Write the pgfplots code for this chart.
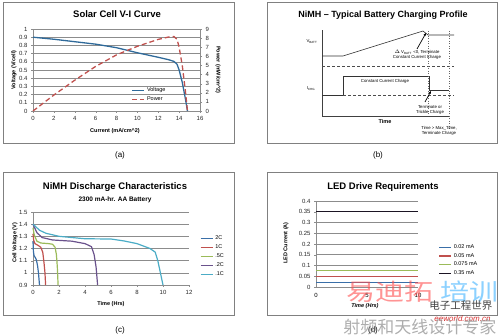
\documentclass[border=0pt]{standalone}
\usepackage{pgfplots}
\pgfplotsset{compat=1.18}
\usepackage{fontspec}
\setmainfont{Liberation Sans}
\newfontfamily\cjk{Noto Sans CJK SC}
\usetikzlibrary{arrows.meta}
\definecolor{vblue}{HTML}{2F6A9A}
\definecolor{xblue}{HTML}{3A6FA8}
\definecolor{xred}{HTML}{C0504D}
\definecolor{xgreen}{HTML}{9BBB59}
\definecolor{xpurple}{HTML}{6A528C}
\definecolor{xcyan}{HTML}{4BACC6}
\definecolor{gridg}{HTML}{8C8C8C}
\definecolor{frameg}{HTML}{808080}
\pgfplotsset{
  base/.style={scale only axis, clip=false, scaled ticks=false,
    /pgf/number format/assume math mode=true,
    /pgf/number format/fixed,
    tick label style={font=\fontsize{6}{7}\selectfont, text=black!85},
    axis line style={gridg,-}, major grid style={gridg, line width=0.5pt},
    tick style={gridg}, tick align=outside, major tick length=2pt,
    legend style={draw=none, fill=none, font=\fontsize{5.5}{6}\selectfont, row sep=-0.5pt,
      legend cell align=left, inner sep=0pt},
    legend image code/.code={\draw[##1] (0pt,0pt) -- (12pt,0pt);},
  }
}
\begin{document}
\begin{tikzpicture}[x=1pt,y=1pt]
\path[use as bounding box] (0pt,0pt) rectangle (500pt,336pt);
% frames
\draw[frameg, line width=0.8pt] (3pt,334pt) rectangle (234pt,193pt);
\draw[frameg, line width=0.8pt] (267pt,334pt) rectangle (497pt,193pt);
\draw[frameg, line width=0.8pt] (3pt,164pt) rectangle (234pt,21pt);
\draw[frameg, line width=0.8pt] (267pt,164pt) rectangle (497pt,21pt);

% ---------------- (a) ----------------
\begin{axis}[base, at={(33pt,225pt)}, anchor=south west, width=167pt, height=82pt,
  xmin=0, xmax=16, ymin=0, ymax=1, xtick={0,2,...,16},
  ytick={0,0.1,0.2,0.3,0.4,0.5,0.6,0.7,0.8,0.9,1},
  ymajorgrids, axis y line*=left, axis x line*=bottom]
\addplot[vblue, line width=1.3pt] coordinates {
(0,0.9) (2,0.875) (4,0.845) (6,0.815) (8,0.772) (10,0.71) (12,0.655) (13,0.625)
(13.5,0.605) (13.8,0.57) (14,0.5) (14.3,0.35) (14.6,0.15) (14.8,0)};
\end{axis}
\begin{axis}[base, at={(33pt,225pt)}, anchor=south west, width=167pt, height=82pt,
  xmin=0, xmax=16, ymin=0, ymax=9, ytick={0,1,...,9},
  axis y line*=right, axis x line=none,
  legend style={at={(0.59,0.31)}, anchor=north west}]
\addlegendimage{vblue, line width=1.3pt}
\addlegendentry{Voltage}
\addplot[xred, line width=1.3pt, dash pattern=on 5pt off 3pt] coordinates {
(0,0) (2,1.75) (4,3.38) (6,4.89) (8,6.16) (10,7.1) (12,7.86) (13,8.12)
(13.5,8.17) (13.8,7.87) (14,7.0) (14.3,5.0) (14.6,2.19) (14.8,0)};
\addlegendentry{Power}
\end{axis}
\node[font=\bfseries\fontsize{9.5}{11}\selectfont] at (117pt,322pt) {Solar Cell V-I Curve};
\node[font=\bfseries\fontsize{5.5}{6}\selectfont] at (115pt,205pt) {Current (mA/cm\textasciicircum2)};
\node[font=\bfseries\fontsize{5.5}{6}\selectfont, rotate=90] at (14pt,266pt) {Voltage (V/cell)};
\node[font=\bfseries\fontsize{5.5}{6}\selectfont, rotate=-90] at (218pt,266pt) {Power (mW/cm\textasciicircum2)};
\node[font=\fontsize{8}{9}\selectfont] at (120pt,181pt) {(a)};

% ---------------- (b) ----------------
\begin{axis}[scale only axis, clip=false, at={(322pt,220pt)}, anchor=south west,
  width=127pt, height=86pt, xmin=0, xmax=127, ymin=0, ymax=86,
  axis lines=left, axis line style={black!75,-, line width=0.7pt},
  xtick=\empty, ytick=\empty]
\addplot[black!80, line width=0.6pt] coordinates {(0,60) (21,60) (101,85) (106,81) (132,81)};
\addplot[black!70, line width=0.6pt, dash pattern=on 3pt off 2pt] coordinates {(0,50) (132,50)};
\addplot[black!80, line width=0.6pt] coordinates {(0,21) (21,21) (21,40) (107,40) (107,26) (127,26)};
\addplot[black!70, line width=0.6pt, dash pattern=on 3pt off 2pt] coordinates {(21,21) (132,21)};
\addplot[black!60, line width=0.6pt, dash pattern=on 1pt off 1.5pt] coordinates {(106,85) (106,1)};
\addplot[black!60, line width=0.6pt, dash pattern=on 1pt off 1.5pt] coordinates {(127,85) (127,-15)};
\addplot[black, line width=0.7pt, -{Stealth[length=3pt,width=2.5pt]}] coordinates {(95,67) (104,83)};
\addplot[black, line width=0.7pt, -{Stealth[length=3pt,width=2.5pt]}] coordinates {(103,14) (109,25)};
\node[font=\fontsize{4.3}{5}\selectfont, align=center] at (axis cs:95,61) {$\scriptstyle\Delta$ V\textsubscript{BATT} <0, Terminate\\[-0.5pt]Constant Current Charge};
\node[font=\fontsize{4.3}{5}\selectfont] at (axis cs:63,35) {Constant Current Charge};
\node[font=\fontsize{4.3}{5}\selectfont, align=center] at (axis cs:108,6) {Terminate or\\[-0.5pt]Trickle Charge};
\node[font=\fontsize{4.3}{5}\selectfont, align=center] at (axis cs:117,-15) {Time > Max\_Time,\\[-0.5pt]Terminate Charge};
\node[font=\fontsize{4.3}{5}\selectfont] at (axis cs:-10,74) {V\textsubscript{BATT}};
\node[font=\fontsize{4.3}{5}\selectfont] at (axis cs:-11,27) {I\textsubscript{CHG}};
\node[font=\bfseries\fontsize{5.5}{6}\selectfont] at (axis cs:63,-6) {Time};
\end{axis}
\node[font=\bfseries\fontsize{9}{11}\selectfont] at (383pt,321pt) {NiMH – Typical Battery Charging Profile};
\node[font=\fontsize{8}{9}\selectfont] at (378pt,181pt) {(b)};

% ---------------- (c) ----------------
\begin{axis}[base, at={(33pt,51pt)}, anchor=south west, width=156pt, height=73pt,
  xmin=0, xmax=12, ymin=0.9, ymax=1.5, xtick={0,2,...,12},
  ytick={0.9,1,1.1,1.2,1.3,1.4,1.5}, ymajorgrids,
  axis y line*=left, axis x line*=bottom,
  legend style={at={(1.07,0.70)}, anchor=north west}]
\addplot[xblue, line width=1.2pt] coordinates {
(0,1.26) (0.03,1.18) (0.08,1.14) (0.15,1.13) (0.25,1.11) (0.35,1.06) (0.42,1.0) (0.5,0.9)};
\addlegendentry{2C}
\addplot[xred, line width=1.2pt] coordinates {
(0,1.32) (0.05,1.27) (0.15,1.24) (0.4,1.225) (0.6,1.21) (0.75,1.17) (0.85,1.08) (0.92,1.0) (0.97,0.9)};
\addlegendentry{1C}
\addplot[xgreen, line width=1.2pt] coordinates {
(0,1.37) (0.1,1.31) (0.3,1.26) (0.6,1.245) (1.2,1.24) (1.5,1.235) (1.7,1.21) (1.8,1.15) (1.87,1.05) (1.93,0.9)};
\addlegendentry{.5C}
\addplot[xpurple, line width=1.2pt] coordinates {
(0,1.4) (0.3,1.33) (0.7,1.29) (1.5,1.27) (3,1.26) (4,1.24) (4.5,1.215) (4.7,1.15) (4.85,1.05) (4.97,0.9)};
\addlegendentry{.2C}
\addplot[xcyan, line width=1.2pt] coordinates {
(0,1.4) (0.5,1.35) (1,1.325) (2,1.3) (4,1.28) (6,1.278) (7,1.262) (8,1.24) (9,1.2) (9.4,1.17)
(9.6,1.1) (9.8,1.0) (10,0.9)};
\addlegendentry{.1C}
\end{axis}
\node[font=\bfseries\fontsize{9.5}{11}\selectfont] at (115pt,149pt) {NiMH Discharge Characteristics};
\node[font=\bfseries\fontsize{6.5}{7}\selectfont] at (115pt,136pt) {2300 mA-hr. AA Battery};
\node[font=\bfseries\fontsize{5.5}{6}\selectfont, rotate=90] at (15pt,93pt) {Cell Voltage (V)};
\node[font=\bfseries\fontsize{5.5}{6}\selectfont] at (111pt,32pt) {Time (Hrs)};
\node[font=\fontsize{8}{9}\selectfont] at (120pt,6pt) {(c)};

% ---------------- (d) ----------------
\begin{axis}[base, at={(316pt,49pt)}, anchor=south west, width=102pt, height=86pt,
  xmin=0, xmax=10, ymin=0, ymax=0.4, xtick={0,5,10},
  ytick={0,0.05,0.1,0.15,0.2,0.25,0.3,0.35,0.4}, ymajorgrids,
  axis y line*=left, axis x line=none,
  legend style={at={(1.2,0.52)}, anchor=north west}]
\addplot[xblue, line width=1.2pt] coordinates {(0,0.02) (10,0.02)};
\addlegendentry{0.02 mA}
\addplot[xred, line width=1.2pt] coordinates {(0,0.05) (10,0.05)};
\addlegendentry{0.05 mA}
\addplot[xgreen, line width=1.2pt] coordinates {(0,0.075) (10,0.075)};
\addlegendentry{0.075 mA}
\addplot[black!75!xpurple, line width=1.2pt] coordinates {(0,0.35) (10,0.35)};
\addlegendentry{0.35 mA}
\end{axis}
\node[font=\fontsize{6}{7}\selectfont] at (316pt,41pt) {0};
\node[font=\fontsize{6}{7}\selectfont] at (367pt,41pt) {5};
\node[font=\fontsize{6}{7}\selectfont] at (418pt,41pt) {10};
\node[font=\bfseries\fontsize{9.5}{11}\selectfont] at (383pt,149pt) {LED Drive Requirements};
\node[font=\bfseries\fontsize{5.5}{6}\selectfont, rotate=90] at (286pt,93pt) {LED Current (A)};
\node[font=\bfseries\itshape\fontsize{5.5}{6}\selectfont] at (365pt,30pt) {Time (Hrs)};
\node[font=\fontsize{8}{9}\selectfont] at (373pt,6pt) {(d)};

% watermark
\node[font=\cjk\fontsize{29}{30}\selectfont, text=red!70!white, opacity=0.6, yscale=0.8, anchor=east] at (437pt,44pt) {易迪拓};
\node[font=\cjk\fontsize{29}{30}\selectfont, text=blue!40!cyan, opacity=0.45, yscale=0.8, anchor=west] at (437pt,44pt) {培训};
\node[font=\cjk\fontsize{10.5}{11}\selectfont, text=black!75, anchor=east] at (496pt,30pt) {电子工程世界};
\node[font=\itshape\fontsize{8}{9}\selectfont, text=red!80!black, opacity=0.8, anchor=east] at (494pt,17pt) {eeworld.com.cn};
\node[font=\cjk\fontsize{17}{18}\selectfont, text=black!40, opacity=0.8, anchor=east] at (500pt,9pt) {射频和天线设计专家};
\end{tikzpicture}
\end{document}
